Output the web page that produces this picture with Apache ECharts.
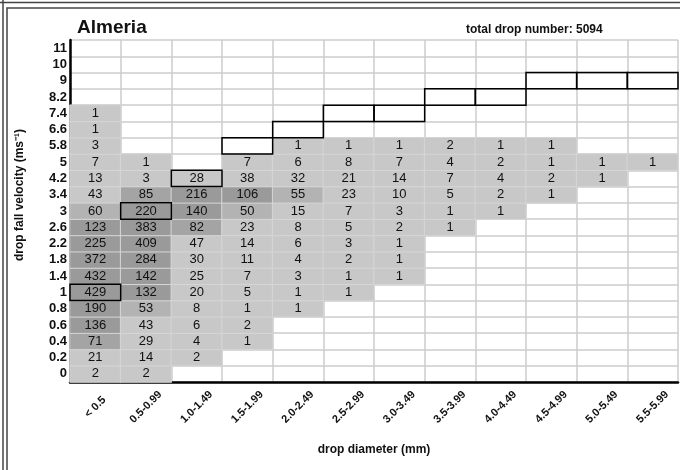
<!DOCTYPE html>
<html>
<head>
<meta charset="utf-8">
<script src="https://cdn.jsdelivr.net/npm/echarts@6/dist/echarts.min.js"></script>
<style>
  html, body { margin: 0; padding: 0; background: #fff; }
  #main { width: 680px; height: 470px; }
</style>
</head>
<body>
<div id="main"></div>
<script>
// drop diameter classes (mm)
var diameters = ['< 0.5', '0.5-0.99', '1.0-1.49', '1.5-1.99', '2.0-2.49', '2.5-2.99',
  '3.0-3.49', '3.5-3.99', '4.0-4.49', '4.5-4.99', '5.0-5.49', '5.5-5.99'];
// fall velocity classes (m/s), bottom to top
var velocities = ['0', '0.2', '0.4', '0.6', '0.8', '1', '1.4', '1.8', '2.2', '2.6', '3',
  '3.4', '4.2', '5', '5.8', '6.6', '7.4', '8.2', '9', '10', '11'];

// drop counts per diameter class, listed from velocity 0 upward
var d0 = [2, 21, 71, 136, 190, 429, 432, 372, 225, 123, 60, 43, 13, 7, 3, 1, 1];
var d1 = [2, 14, 29, 43, 53, 132, 142, 284, 409, 383, 220, 85, 3, 1];
var d2 = [null, 2, 4, 6, 8, 20, 25, 30, 47, 82, 140, 216, 28];
var d3 = [null, null, 1, 2, 1, 5, 7, 11, 14, 23, 50, 106, 38, 7];
var d4 = [null, null, null, null, 1, 1, 3, 4, 6, 8, 15, 55, 32, 6, 1];
var d5 = [null, null, null, null, null, 1, 1, 2, 3, 5, 7, 23, 21, 8, 1];
var d6 = [null, null, null, null, null, null, 1, 1, 1, 2, 3, 10, 14, 7, 1];
var d7 = [null, null, null, null, null, null, null, null, null, 1, 1, 5, 7, 4, 2];
var d8 = [null, null, null, null, null, null, null, null, null, null, 1, 2, 4, 2, 1];
var d9 = [null, null, null, null, null, null, null, null, null, null, null, 1, 2, 1, 1];
var d10 = [null, null, null, null, null, null, null, null, null, null, null, null, 1, 1];
var d11 = [null, null, null, null, null, null, null, null, null, null, null, null, null, 1];
var counts = [d0, d1, d2, d3, d4, d5, d6, d7, d8, d9, d10, d11];

// expected (terminal) velocity class for each diameter, drawn as outlined cells
var terminalVelocity = ['1', '3', '4.2', '5.8', '6.6', '7.4', '7.4', '8.2', '8.2', '9', '9', '9'];

var totalDrops = 5094;

var heatData = [];
counts.forEach(function (col, i) {
  col.forEach(function (v, j) {
    if (v != null) heatData.push([i, j, v]);
  });
});
var boxData = terminalVelocity.map(function (v, i) {
  return [i, velocities.indexOf(v)];
});

var myChart = echarts.init(document.getElementById('main'));
var option = {
  animation: false,
  textStyle: { fontFamily: 'Liberation Sans, Arial, sans-serif' },
  title: [{
    text: 'Almeria',
    left: 72, top: 13,
    textStyle: { fontSize: 19, fontWeight: 'bold', color: '#111' }
  }, {
    text: '{a|total drop number: }{b|' + totalDrops + '}',
    left: 461, top: 19,
    textStyle: {
      rich: {
        a: { fontSize: 12, color: '#111' },
        b: { fontSize: 12, fontWeight: 'bold', color: '#111' }
      }
    }
  }],
  grid: { left: 70, right: 2, top: 40, bottom: 88 },
  xAxis: {
    type: 'category',
    data: diameters,
    name: 'drop diameter (mm)',
    nameLocation: 'middle',
    nameGap: 62,
    nameTextStyle: { fontSize: 12, fontWeight: 'bold', color: '#111' },
    axisLine: { lineStyle: { color: '#000', width: 2.5 } },
    axisTick: { show: false },
    axisLabel: {
      rotate: 45, align: 'center', verticalAlign: 'middle',
      fontSize: 11, fontWeight: 'bold', color: '#111', margin: 25, interval: 0
    },
    splitLine: { show: true, lineStyle: { color: '#cccccc', width: 1.5 } }
  },
  yAxis: {
    type: 'category',
    data: velocities,
    axisLine: { lineStyle: { color: '#000', width: 2.5 } },
    axisTick: { show: false },
    axisLabel: { fontSize: 13, fontWeight: 'bold', color: '#111', margin: 3, interval: 0 },
    splitLine: { show: true, lineStyle: { color: '#cccccc', width: 1.5 } }
  },
  visualMap: {
    show: false,
    type: 'piecewise',
    seriesIndex: 0,
    dimension: 2,
    pieces: [
      { min: 0, max: 49.5, color: '#c8c8c8' },
      { min: 49.5, max: 69.5, color: '#b3b3b3' },
      { min: 69.5, max: 99.5, color: '#a4a4a4' },
      { min: 99.5, color: '#9a9a9a' }
    ]
  },
  series: [{
    type: 'heatmap',
    data: heatData,
    itemStyle: { borderColor: '#d6d6d6', borderWidth: 1 },
    label: { show: true, fontSize: 13, color: '#111', formatter: function (p) { return p.value[2]; } }
  }, {
    type: 'custom',
    data: boxData,
    z: 10,
    renderItem: function (params, api) {
      var c = api.coord([api.value(0), api.value(1)]);
      var s = api.size([1, 1]);
      return {
        type: 'rect',
        shape: { x: c[0] - s[0] / 2, y: c[1] - s[1] / 2, width: s[0], height: s[1] },
        style: { fill: 'none', stroke: '#000', lineWidth: 1.5 }
      };
    }
  }],
  graphic: [
    { type: 'line', shape: { x1: 0, y1: 2.5, x2: 680, y2: 2.5 }, style: { stroke: '#444', lineWidth: 1.5 } },
    { type: 'line', shape: { x1: 3, y1: 0, x2: 3, y2: 470 }, style: { stroke: '#444', lineWidth: 1.5 } },
    { type: 'rect', shape: { x: 7, y: 8, width: 680, height: 470 }, style: { fill: 'none', stroke: '#444', lineWidth: 1.5 } },
    {
      type: 'text', x: 20, y: 195, rotation: Math.PI / 2,
      style: {
        text: 'drop fall velocity (ms\u207B\u00B9)', align: 'center', verticalAlign: 'middle',
        font: 'bold 12px Liberation Sans, Arial, sans-serif', fill: '#111'
      }
    }
  ]
};
myChart.setOption(option);
</script>
</body>
</html>
